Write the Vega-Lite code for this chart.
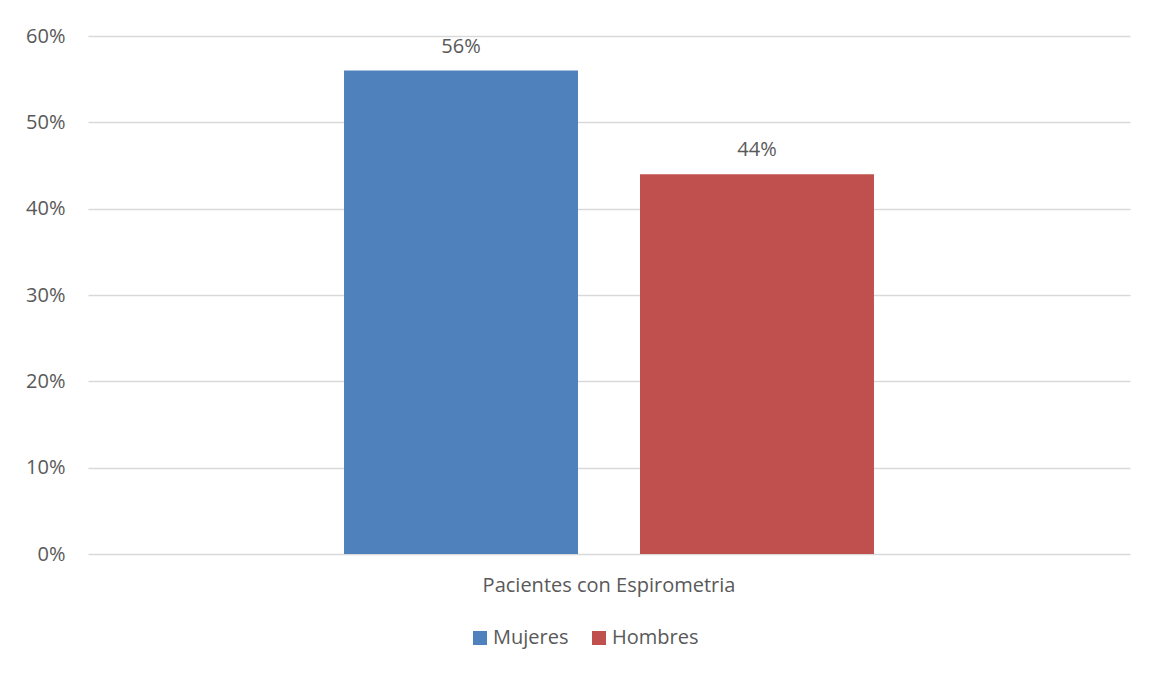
{
  "$schema": "https://vega.github.io/schema/vega-lite/v6.json",
  "autosize": {"type": "none"},
  "width": 1042,
  "height": 518,
  "padding": {"left": 88, "top": 36, "right": 23, "bottom": 121},
  "background": "white",
  "config": {
    "view": {"stroke": null},
    "font": "Open Sans",
    "axis": {"labelColor": "#595959", "labelFontSize": 20, "labelFont": "Open Sans"},
    "legend": {"labelColor": "#595959", "labelFontSize": 20, "labelFont": "Open Sans"}
  },
  "data": {
    "values": [
      {"categoria": "Pacientes con Espirometria", "sexo": "Mujeres", "valor": 0.56},
      {"categoria": "Pacientes con Espirometria", "sexo": "Hombres", "valor": 0.44}
    ]
  },
  "encoding": {
    "x": {
      "field": "categoria", "type": "nominal",
      "scale": {"paddingInner": 0, "paddingOuter": 0},
      "axis": {"title": null, "labelAngle": 0, "ticks": false, "domain": false, "labelPadding": 21, "labelFontSize": 20, "labelLimit": 0}
    },
    "xOffset": {
      "field": "sexo", "type": "nominal",
      "sort": ["Mujeres", "Hombres"],
      "scale": {"paddingInner": 0.2095, "paddingOuter": 0.865}
    },
    "y": {
      "field": "valor", "type": "quantitative",
      "scale": {"domain": [0, 0.6], "nice": false},
      "axis": {"title": null, "format": ".0%", "values": [0, 0.1, 0.2, 0.3, 0.4, 0.5, 0.6], "labelOverlap": false, "labelFlush": false, "ticks": false, "domain": false, "labelPadding": 23, "labelFontSize": 20, "gridColor": "#D9D9D9", "gridWidth": 1.3}
    }
  },
  "layer": [
    {
      "mark": {"type": "bar"},
      "encoding": {
        "color": {
          "field": "sexo", "type": "nominal",
          "sort": ["Mujeres", "Hombres"],
          "scale": {"domain": ["Mujeres", "Hombres"], "range": ["#4F81BD", "#C0504D"]},
          "legend": {"title": null, "orient": "none", "legendX": 382, "legendY": 592, "direction": "horizontal", "symbolType": "square", "symbolSize": 196, "symbolStrokeWidth": 0, "symbolOpacity": 1, "labelFontSize": 20, "columnPadding": 20, "labelOffset": 3}
        }
      }
    },
    {
      "mark": {"type": "text", "baseline": "alphabetic", "dy": -18, "fontSize": 20, "color": "#595959", "font": "Open Sans"},
      "encoding": {
        "text": {"field": "valor", "type": "quantitative", "format": ".0%"}
      }
    }
  ]
}
